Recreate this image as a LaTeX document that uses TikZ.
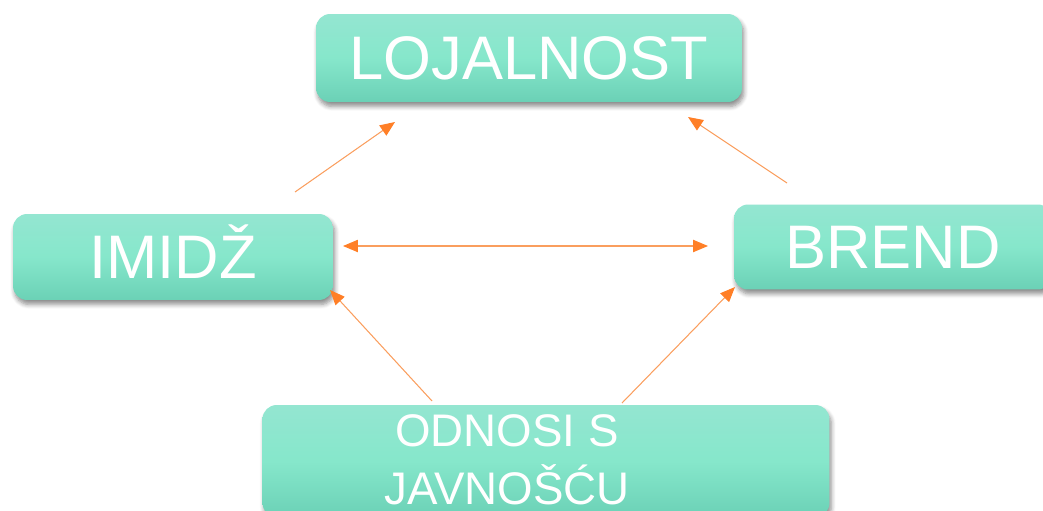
\documentclass[tikz,border=0pt]{standalone}
\usepackage{fontspec}
\setmainfont{Liberation Sans}
\usetikzlibrary{arrows.meta,shadows.blur,positioning}
\definecolor{boxtop}{HTML}{94E6D1}
\definecolor{boxmid}{HTML}{86E7CB}
\definecolor{boxbot}{HTML}{6BD1B6}
\definecolor{arrline}{HTML}{FA9E5E}
\definecolor{arrtip}{HTML}{FF7F27}
\tikzset{box/.style={rectangle, rounded corners=8pt, top color=boxtop, bottom color=boxbot, middle color=boxmid,
text=white, inner sep=0pt, align=center, font=\fontsize{35}{40}\selectfont,
blur shadow={shadow xshift=1pt, shadow yshift=-2.5pt, shadow blur radius=2.5pt, shadow blur steps=6, shadow opacity=45}},
capline/.style={text height=25pt, text depth=0pt},
arr/.style={draw=arrline, line width=0.6pt, >={Triangle[length=8.5pt,width=7pt,color=arrtip]}, ->}}

\begin{document}
\begin{tikzpicture}[x=0.02cm, y=-0.02cm]
        \useasboundingbox (0,0) rectangle (1043,510);
        \clip (0,0) rectangle (1043,510);

        \node[box, capline, minimum width=8.52cm, minimum height=1.76cm] (lojal) at (529, 58) {LOJALNOST};
        \node[box, capline, minimum width=6.4cm, minimum height=1.72cm] (imidz) at (173, 257) {IMIDŽ};
        \node[box, capline, minimum width=6.36cm, minimum height=1.7cm] (brend) at (893, 247) {BREND};
        \node[box, minimum width=11.34cm, minimum height=2.24cm] (odnosi) at (546, 461) {};
        \node[text=white, align=center, inner sep=0pt, font=\fontsize{26}{33}\selectfont] (odnositxt) at (507, 460) {ODNOSI S\\JAVNOŠĆU};

        % arrow ends
        \coordinate (i1) at (295, 192);
        \coordinate (l1) at (395, 122);
        \coordinate (b1) at (787, 183);
        \coordinate (l2) at (688, 117);
        \coordinate (i2) at (343, 246);
        \coordinate (b2) at (708, 246);
        \coordinate (o1) at (432, 401);
        \coordinate (i3) at (330, 290);
        \coordinate (o2) at (622, 403);
        \coordinate (b3) at (735, 287);

        \draw (i1) edge[arr] (l1)
              (b1) edge[arr] (l2)
              (i2) edge[arr, <->] (b2)
              (o1) edge[arr] (i3)
              (o2) edge[arr] (b3);
\end{tikzpicture}
\end{document}
